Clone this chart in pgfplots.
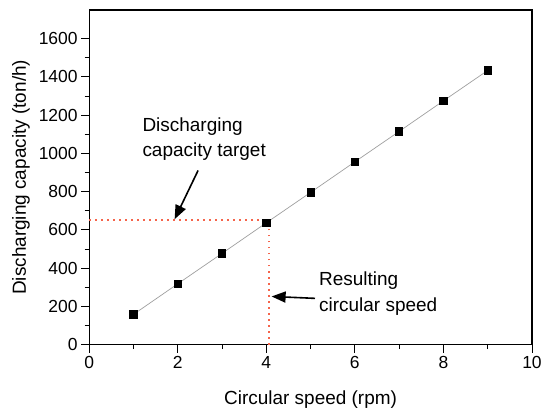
\documentclass[border=0pt]{standalone}
\usepackage{fontspec}
\setmainfont{Liberation Sans}
\usepackage{pgfplots}
\pgfplotsset{compat=1.18}
\usetikzlibrary{arrows.meta,calc}
\definecolor{reddot}{RGB}{245,100,75}

\begin{document}
\begin{tikzpicture}
\begin{axis}[
    scale only axis,
    width=442bp, height=334bp,
    xmin=0, xmax=10, ymin=0, ymax=1750,
    xtick={0,2,...,10}, ytick={0,200,...,1600},
    minor tick num=1,
    tick pos=left, tick align=outside,
    major tick length=8bp, minor tick length=4.5bp,
    every tick/.style={black, line width=0.9bp},
    axis line style={line width=1.1bp},
    tick label style={font=\fontsize{17.5}{21}\selectfont},
    label style={font=\fontsize{19}{23}\selectfont},
    /pgf/number format/assume math mode=true,
    /pgf/number format/1000 sep={},
    xlabel={Circular speed (rpm)},
    ylabel={Discharging capacity (ton/h)},
    xlabel style={at={(axis description cs:0.5,-0.165)}, anchor=center},
    ylabel style={at={(axis description cs:-0.154,0.5)}, anchor=center, rotate=0},
    clip=false,
]
% red dotted guide lines
\addplot[reddot, line width=1.5bp, dash pattern=on 1.5bp off 4.5bp] coordinates {(0,652)(4.06,652)};
\addplot[reddot, line width=1.5bp, dash pattern=on 1.5bp off 4.5bp] coordinates {(4.06,0)(4.06,652)};
% data
\addplot[gray!75, line width=0.7bp, mark=square*, mark size=3.7bp,
    mark options={black, fill=black}] coordinates {
    (1,158)(2,318)(3,477)(4,637)(5,796)(6,956)(7,1115)(8,1275)(9,1434)};
% annotations
\node[anchor=west, align=left, inner sep=0pt, font=\fontsize{19}{25}\selectfont]
    at (axis cs:1.20,1073) {Discharging\\capacity target};
\draw[-{Triangle[length=14bp,width=11bp]}, line width=1.6bp] (axis cs:2.46,911) -- (axis cs:1.93,656);
\node[anchor=west, align=left, inner sep=0pt, font=\fontsize{19}{26}\selectfont]
    at (axis cs:5.19,266) {Resulting\\circular speed};
\draw[-{Triangle[length=14bp,width=11bp]}, line width=1.6bp] (axis cs:5.10,242) -- (axis cs:4.12,252);
\coordinate (sw) at (rel axis cs:0,0);
\coordinate (ne) at (rel axis cs:1,1);
\end{axis}
\pgfresetboundingbox
\path ($(sw)+(-89bp,-66bp)$) rectangle ($(ne)+(10bp,10bp)$);
\end{tikzpicture}
\end{document}
